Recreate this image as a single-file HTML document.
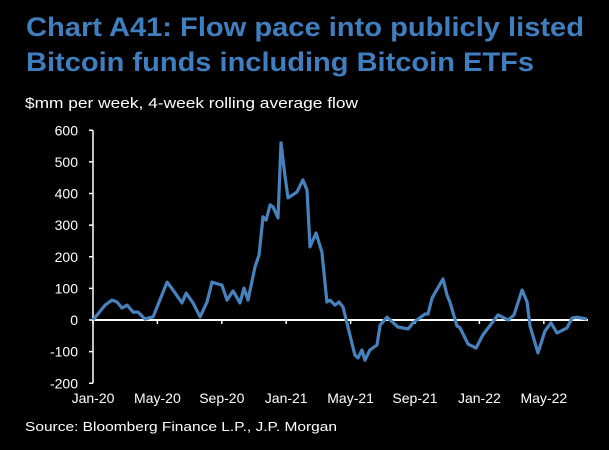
<!DOCTYPE html>
<html><head><meta charset="utf-8"><style>
html,body{margin:0;padding:0;background:#000;width:609px;height:450px;overflow:hidden}
svg{display:block;font-family:"Liberation Sans",Arial,sans-serif}
</style></head><body>
<svg id="chart" width="609" height="450" viewBox="0 0 609 450">
<rect width="609" height="450" fill="#000"/>
<text x="26" y="36" fill="#3f7fbf" font-weight="bold" font-size="27" textLength="558" lengthAdjust="spacingAndGlyphs">Chart A41: Flow pace into publicly listed</text>
<text x="26" y="71" fill="#3f7fbf" font-weight="bold" font-size="27" textLength="508" lengthAdjust="spacingAndGlyphs">Bitcoin funds including Bitcoin ETFs</text>
<text x="25" y="108" fill="#fff" font-size="15" textLength="333" lengthAdjust="spacingAndGlyphs">$mm per week, 4-week rolling average flow</text>
<text x="25" y="431" fill="#fff" font-size="13" textLength="312" lengthAdjust="spacingAndGlyphs">Source: Bloomberg Finance L.P., J.P. Morgan</text>
<g id="axes"></g>
<g id="series"></g>
</svg>
<script>
const yTicks=[600,500,400,300,200,100,0,-100,-200];
const xLabels=["Jan-20","May-20","Sep-20","Jan-21","May-21","Sep-21","Jan-22","May-22"];
const xLabelMonths=[0,4,8,12,16,20,24,28];
const months=[0,0.75,1.18,1.49,1.8,2.11,2.49,2.8,3.23,3.73,4.6,4.97,5.53,5.78,6.21,6.65,7.08,7.39,8.01,8.32,8.70,9.13,9.38,9.63,10.06,10.31,10.56,10.75,11.0,11.18,11.49,11.68,11.93,12.11,12.67,13.04,13.29,13.48,13.85,14.22,14.53,14.72,15.03,15.28,15.53,16.27,16.46,16.71,16.89,17.20,17.64,17.83,18.26,18.94,19.57,19.88,20.62,20.81,21.06,21.74,21.99,22.17,22.61,22.80,23.29,23.79,24.22,25.16,25.78,26.15,26.65,26.96,27.14,27.64,28.07,28.45,28.82,29.44,29.75,30.06,30.68];
const flows=[0,47,63,57,38,47,25,25,3,10,120,95,54,85,54,10,57,120,110,63,92,54,101,63,168,205,326,316,364,358,323,560,453,386,405,443,411,231,275,215,57,63,47,57,41,-111,-120,-95,-127,-95,-79,-16,9,-22,-28,-9,19,19,70,130,79,57,-19,-25,-76,-89,-47,16,0,16,95,57,-19,-104,-35,-9,-41,-25,6,9,3];
const NS="http://www.w3.org/2000/svg";
const x0=93,pxPerMonth=16.1,y0=320,pxPerUnit=253/800;
const xs=m=>x0+m*pxPerMonth;
const ys=v=>y0-v*pxPerUnit;
const axes=document.getElementById('axes');
function mk(tag,attrs,parent){const e=document.createElementNS(NS,tag);for(const k in attrs)e.setAttribute(k,attrs[k]);parent.appendChild(e);return e;}
const yAxis=mk('line',{x1:x0,x2:x0,y1:ys(600),y2:ys(-200),stroke:'#fff','stroke-width':1.5},axes);


yTicks.forEach(v=>{
  const t=mk('line',{x1:x0-4,x2:x0,y1:ys(v),y2:ys(v),stroke:'#fff','stroke-width':1.5},axes);
  
  
  const l=mk('text',{x:78,y:ys(v)+5,fill:'#fff','font-size':14,'text-anchor':'end'},axes);
  l.textContent=v;
  
  
});
const xAxis=mk('line',{x1:x0,x2:588,y1:y0,y2:y0,stroke:'#fff','stroke-width':2},axes);


xLabels.forEach((s,i)=>{
  const x=xs(xLabelMonths[i]);
  const t=mk('line',{x1:x,x2:x,y1:y0,y2:y0+4,stroke:'#fff','stroke-width':1.5},axes);
  
  
  const l=mk('text',{x:x,y:403,fill:'#fff','font-size':14,'text-anchor':'middle'},axes);
  l.textContent=s;
  
  
});
const pts=months.map((m,i)=>xs(m).toFixed(1)+','+ys(flows[i]).toFixed(1)).join(' ');
const line=mk('polyline',{points:pts,fill:'none',stroke:'#4682bd','stroke-width':3.2,'stroke-linejoin':'round'},document.getElementById('series'));


</script>
</body></html>
